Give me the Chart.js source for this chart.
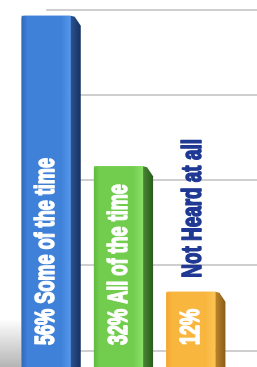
<!DOCTYPE html>
<html>
<head>
<meta charset="utf-8">
<script src="https://cdn.jsdelivr.net/npm/chart.js@4"></script>
<style>
  html, body { margin: 0; padding: 0; background: #fff; overflow: hidden; }
  #c { display: block; }
</style>
</head>
<body>
<canvas id="c" width="257" height="367"></canvas>
<script>
// data
var categories = ['Some of the time', 'All of the time', 'Not Heard at all'];
var percents = [56, 32, 12];
var nameInside = [true, true, false];   // third name sits above its bar
var gridTicks = [2.5, 16.2, 29.8, 43.4, 56.9];

// front: left, mid, right ; side: light, dark
var faceColors = [
    ['#2f69bd', '#3f80d8', '#5598ec'],
    ['#5fba3f', '#72cd4f', '#8ae266'],
    ['#f2a72e', '#f8b63f', '#fcc455']
];
var sideColors = [
    ['#2a5392', '#17315e'],
    ['#488831', '#2b5b1f'],
    ['#bf8529', '#875d17']
];

var threeD = {
    id: 'threeD',
    beforeDatasetsDraw: function (chart) {
        var ctx = chart.ctx;
        var xs = chart.scales.x, ys = chart.scales.y;
        var x0 = xs.getPixelForValue(0);
        ctx.save();
        ctx.strokeStyle = '#cfcfcf';
        ctx.lineWidth = 2;
        gridTicks.forEach(function (v) {
            var y = Math.round(ys.getPixelForValue(v));
            ctx.beginPath();
            ctx.moveTo(x0, y);
            ctx.lineTo(chart.width, y);
            ctx.stroke();
        });
        // floor shadow left of the first bar
        var b0 = chart.getDatasetMeta(0).data[0];
        var left = b0.x - b0.width / 2;
        var g = ctx.createLinearGradient(0, b0.base - 48, 0, b0.base);
        g.addColorStop(0, 'rgba(120,120,120,0)');
        g.addColorStop(1, 'rgba(120,120,120,0.55)');
        ctx.fillStyle = g;
        ctx.fillRect(0, b0.base - 48, left, 48);
        ctx.restore();
    },
    afterDatasetsDraw: function (chart) {
        var ctx = chart.ctx;
        var meta = chart.getDatasetMeta(0);
        var d = 10;
        ctx.save();
        meta.data.forEach(function (bar, i) {
            var l = bar.x - bar.width / 2, r = bar.x + bar.width / 2;
            var top = bar.y, base = bar.base;
            // front face
            var fc = faceColors[i];
            var g = ctx.createLinearGradient(l, 0, r, 0);
            g.addColorStop(0, fc[0]);
            g.addColorStop(0.12, fc[1]);
            g.addColorStop(0.8, fc[1]);
            g.addColorStop(1, fc[2]);
            ctx.fillStyle = g;
            ctx.beginPath();
            ctx.roundRect(l, top, r - l, base - top, [3, 1, 0, 0]);
            ctx.fill();
            // side face
            var sc = sideColors[i];
            var sg = ctx.createLinearGradient(r, 0, r + d, 0);
            sg.addColorStop(0, sc[0]);
            sg.addColorStop(1, sc[1]);
            ctx.fillStyle = sg;
            ctx.beginPath();
            ctx.moveTo(r, top);
            ctx.lineTo(r + d * 0.4, top + 1);
            ctx.lineTo(r + d, top + d);
            ctx.lineTo(r + d, base);
            ctx.lineTo(r, base);
            ctx.closePath();
            ctx.fill();
            // labels, rotated, bottom to top
            var inside = percents[i] + '%' + (nameInside[i] ? ' ' + categories[i] : '');
            drawUp(ctx, inside, bar.x + 8, base - 22, '#ffffff', 0.67);
            if (!nameInside[i]) {
                drawUp(ctx, categories[i], bar.x + 10, top - 14, '#1f3893', 0.7);
            }
        });
        ctx.restore();
    }
};

function drawUp(ctx, text, x, y, color, squeeze) {
    ctx.save();
    ctx.translate(x, y);
    ctx.rotate(-Math.PI / 2);
    ctx.scale(squeeze, 1);
    ctx.font = 'bold 27px "Liberation Sans", Arial, sans-serif';
    ctx.fillStyle = color;
    ctx.strokeStyle = color;
    ctx.lineWidth = 1.6;
    ctx.lineJoin = 'round';
    ctx.textAlign = 'left';
    ctx.textBaseline = 'alphabetic';
    ctx.strokeText(text, 0, 0);
    ctx.fillText(text, 0, 0);
    ctx.restore();
}

new Chart(document.getElementById('c').getContext('2d'), {
    type: 'bar',
    data: {
        labels: categories,
        datasets: [{
            data: percents,
            backgroundColor: faceColors.map(function (c) { return c[1]; }),
            borderWidth: 0,
            barPercentage: 0.68,
            categoryPercentage: 1
        }]
    },
    options: {
        responsive: false,
        animation: false,
        layout: { padding: { left: 10, right: 30, top: 0, bottom: 0 } },
        plugins: { legend: { display: false }, tooltip: { enabled: false } },
        scales: {
            x: { display: false },
            y: { display: false, min: 0, max: 58.5 }
        }
    },
    plugins: [threeD]
});
</script>
</body>
</html>
